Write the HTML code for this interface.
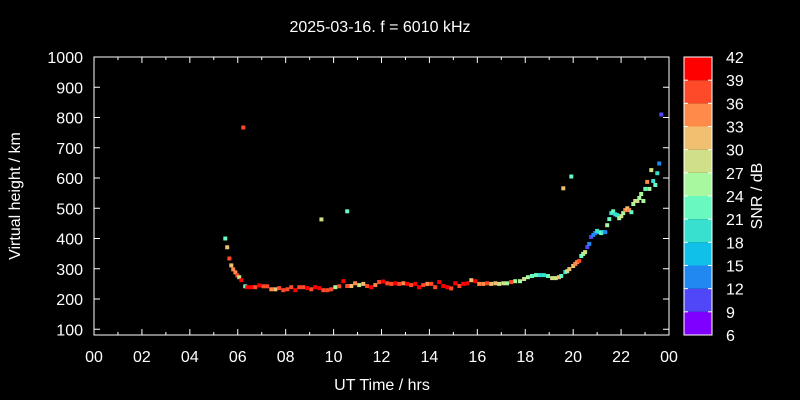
<!DOCTYPE html>
<html><head><meta charset="utf-8"><style>
html,body{margin:0;padding:0;background:#000;}
svg{display:block;font-family:"Liberation Sans",sans-serif;}
</style></head><body>
<svg id="chart" width="800" height="400" viewBox="0 0 800 400" xmlns="http://www.w3.org/2000/svg">
<rect x="0" y="0" width="800" height="400" fill="#000"/>
<text x="380" y="32" fill="#fff" font-size="16" text-anchor="middle">2025-03-16. f = 6010 kHz</text>
<text x="382" y="390" fill="#fff" font-size="16" text-anchor="middle">UT Time / hrs</text>
<text transform="translate(20,196) rotate(-90)" fill="#fff" font-size="16" text-anchor="middle">Virtual height / km</text>
<text transform="translate(762,196) rotate(-90)" fill="#fff" font-size="16" text-anchor="middle">SNR / dB</text>
<g id="marks"></g>
<g id="axes"></g>
<g id="cbar"></g>
</svg>
<script>
const times = [5.48,5.56,5.65,5.73,5.81,5.90,5.98,6.06,6.15,6.23,6.31,6.40,6.57,6.73,6.90,7.07,7.23,7.40,7.57,7.73,7.90,8.07,8.23,8.40,8.57,8.73,8.90,9.07,9.23,9.40,9.49,9.57,9.74,9.90,10.07,10.24,10.41,10.57,10.57,10.74,10.90,11.07,11.24,11.40,11.57,11.74,11.90,12.07,12.24,12.41,12.57,12.74,12.91,13.07,13.24,13.41,13.57,13.74,13.91,14.08,14.24,14.41,14.58,14.75,14.91,15.08,15.25,15.41,15.58,15.75,15.92,16.08,16.25,16.41,16.58,16.75,16.91,17.08,17.24,17.41,17.58,17.78,17.95,18.11,18.28,18.45,18.61,18.78,18.95,19.12,19.28,19.41,19.50,19.59,19.67,19.75,19.84,19.92,20.00,20.09,20.17,20.25,20.34,20.42,20.50,20.59,20.67,20.75,20.84,20.92,21.00,21.09,21.17,21.26,21.34,21.42,21.51,21.59,21.67,21.76,21.84,21.92,22.01,22.09,22.17,22.26,22.34,22.43,22.51,22.59,22.68,22.76,22.84,22.93,23.01,23.09,23.18,23.26,23.34,23.43,23.51,23.59,23.68];
const heights = [400,371,334,311,298,288,278,272,262,767,242,239,239,239,245,242,242,232,232,236,229,232,239,229,239,239,236,232,239,236,463,229,229,232,239,242,259,243,490,243,252,246,250,243,239,246,256,258,252,250,252,250,252,250,246,250,239,246,250,250,239,256,243,239,235,252,243,250,252,262,259,250,250,252,250,252,250,252,252,256,259,259,266,272,276,279,279,279,276,269,269,272,276,566,289,292,299,605,309,316,322,326,342,349,355,372,382,405,412,418,425,421,418,421,421,444,464,484,490,480,477,467,474,484,494,500,494,487,514,524,524,534,547,524,564,587,564,626,590,577,616,648,810];
const snr = [22,31,37,32,34,35,37,28,40,37,21,40,40,38,40,37,37,33,31,36,36,37,37,40,36,36,39,38,40,40,28,37,36,36,24,37,40,36,22,30,35,28,30,36,40,33,37,40,36,36,39,37,34,40,36,39,40,37,33,37,36,40,40,40,36,40,37,40,40,30,40,33,33,38,31,30,28,27,25,37,26,26,27,24,21,22,19,19,22,27,28,31,22,32,20,28,31,22,31,33,35,37,22,25,27,11,13,9,12,13,18,20,22,20,14,24,22,20,22,20,18,24,27,25,33,30,33,22,24,28,27,25,24,25,22,35,24,29,20,21,20,13,10];
const yTicks = [100,200,300,400,500,600,700,800,900,1000];
const xTickLabels = ["00","02","04","06","08","10","12","14","16","18","20","22","00"];
const cbLevels = [6,9,12,15,18,21,24,27,30,33,36,39,42];
const cbColors = ["#8000ff","#5048f8","#2088f0","#10c0e8","#38e0d0","#68f8c0","#a8f8a0","#d0e088","#f0c070","#ff8a4a","#ff4a2a","#ff0000"];

const L=94,R=669,T=57,B=335,YMIN=81,YMAX=1000,XMIN=0,XMAX=24;
const sx=h=>L+(h-XMIN)/(XMAX-XMIN)*(R-L);
const sy=v=>B-(v-YMIN)/(YMAX-YMIN)*(B-T);
const CBL=684,CBR=712,CBT=57,CBB=335;
const cy=s=>CBB-(s-cbLevels[0])/(cbLevels[cbLevels.length-1]-cbLevels[0])*(CBB-CBT);
function colorOf(s){let i=Math.floor((s-cbLevels[0])/3);if(i<0)i=0;if(i>cbColors.length-1)i=cbColors.length-1;return cbColors[i];}
const NS="http://www.w3.org/2000/svg";
function mk(tag,attrs,parent){const e=document.createElementNS(NS,tag);for(const k in attrs)e.setAttribute(k,attrs[k]);parent.appendChild(e);return e;}

const marks=document.getElementById('marks');
for(let i=0;i<times.length;i++){
  const r=mk('rect',{x:(sx(times[i])-2).toFixed(1),y:(sy(heights[i])-2).toFixed(1),width:4,height:4,fill:colorOf(snr[i])},marks);
  
  
}

const axes=document.getElementById('axes');
const frame=mk('rect',{x:L,y:T,width:R-L,height:B-T,fill:'none',stroke:'#fff','stroke-width':1},axes);


for(const v of yTicks){
  const y=sy(v);
  mk('line',{x1:L,x2:L+6,y1:y,y2:y,stroke:'#fff'},axes);
  mk('line',{x1:R,x2:R-6,y1:y,y2:y,stroke:'#fff'},axes);
  const t=mk('text',{x:L-11,y:y+6,fill:'#fff','font-size':16,'text-anchor':'end'},axes);
  t.textContent=v;
  
  
}
for(let h=0;h<=24;h++){
  const x=sx(h);const len=(h%2===0)?6:3;
  mk('line',{x1:x,x2:x,y1:B,y2:B-len,stroke:'#fff'},axes);
  mk('line',{x1:x,x2:x,y1:T,y2:T+len,stroke:'#fff'},axes);
}
xTickLabels.forEach((lab,i)=>{
  const t=mk('text',{x:sx(i*2),y:362,fill:'#fff','font-size':16,'text-anchor':'middle'},axes);
  t.textContent=lab;
  
  
});

const cbar=document.getElementById('cbar');
for(let i=0;i<cbColors.length;i++){
  const y1=cy(cbLevels[i+1]),y0=cy(cbLevels[i]);
  const r=mk('rect',{x:CBL,y:y1,width:CBR-CBL,height:y0-y1,fill:cbColors[i]},cbar);
  
  
}
const cf=mk('rect',{x:CBL,y:CBT,width:CBR-CBL,height:CBB-CBT,fill:'none',stroke:'#fff'},cbar);


cbLevels.forEach(s=>{
  const y=cy(s);
  mk('line',{x1:CBL,x2:CBL+4,y1:y,y2:y,stroke:'#fff'},cbar);
  mk('line',{x1:CBR,x2:CBR-4,y1:y,y2:y,stroke:'#fff'},cbar);
  const t=mk('text',{x:726,y:y+6,fill:'#fff','font-size':16},cbar);
  t.textContent=s;
  
  
});
</script>
</body></html>
